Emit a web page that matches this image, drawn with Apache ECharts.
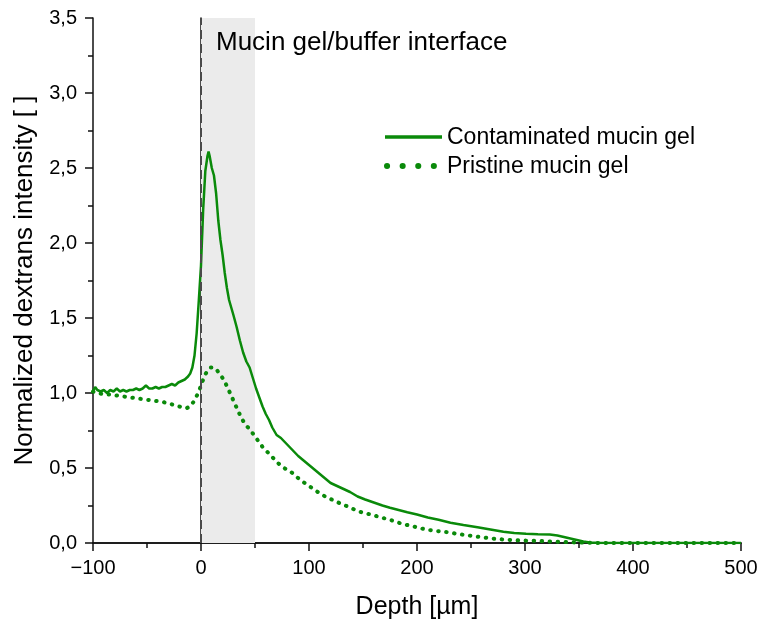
<!DOCTYPE html>
<html><head><meta charset="utf-8">
<script src="https://cdn.jsdelivr.net/npm/echarts@6/dist/echarts.min.js"></script>
<style>html,body{margin:0;padding:0;background:#fff}#c{width:762px;height:628px}</style>
</head><body><div id="c"></div>
<script>
const contaminatedDepth = [-100,-98,-96,-93,-90,-87,-84,-81,-78,-75,-72,-69,-66,-63,-60,-57,-54,-51,-48,-45,-42,-39,-36,-33,-30,-27,-24,-21,-18,-15,-12,-10,-8,-6,-4,-2,0,2,4,6,7,8,10,12,14,16,18,20,22,24,26,28,30,33,36,39,42,45,48,51,54,57,60,63,66,70,74,78,82,86,90,95,100,105,110,115,120,126,132,138,145,152,160,168,175,183,191,200,210,220,231,243,256,268,280,290,301,312,323,330,336,342,348,354,360,370,400,450,500];
const contaminatedValues = [1.01,1.04,1.02,1.01,1.02,1.00,1.02,1.01,1.03,1.01,1.02,1.01,1.02,1.02,1.03,1.02,1.03,1.05,1.03,1.03,1.04,1.03,1.04,1.04,1.05,1.06,1.05,1.07,1.08,1.09,1.11,1.13,1.17,1.25,1.40,1.62,1.85,2.22,2.48,2.58,2.61,2.58,2.50,2.45,2.33,2.15,2.02,1.92,1.80,1.70,1.62,1.57,1.52,1.44,1.35,1.27,1.21,1.17,1.10,1.03,0.97,0.91,0.86,0.82,0.77,0.72,0.70,0.67,0.64,0.61,0.58,0.55,0.52,0.49,0.46,0.43,0.40,0.38,0.36,0.34,0.31,0.29,0.27,0.25,0.235,0.22,0.205,0.19,0.17,0.155,0.135,0.12,0.105,0.09,0.075,0.066,0.061,0.058,0.056,0.05,0.04,0.03,0.02,0.01,0.003,0,0,0,0];
const pristineDepth = [-100,-95,-90,-85,-80,-75,-70,-65,-60,-55,-50,-45,-40,-35,-30,-25,-20,-16,-13,-10,-7,-4,-2,0,3,6,9,12,15,18,21,25,30,35,40,46,52,58,64,70,77,84,92,100,107,115,127,137,146,157,167,177,186,197,208,218,228,238,248,258,269,279,289,300,311,321,331,341,351,362,380,420,460,500];
const pristineValues = [1.01,1.00,0.99,0.99,0.985,0.98,0.975,0.97,0.965,0.96,0.955,0.95,0.945,0.94,0.93,0.92,0.91,0.90,0.90,0.91,0.94,0.98,1.01,1.05,1.11,1.15,1.17,1.17,1.15,1.12,1.09,1.03,0.95,0.87,0.80,0.75,0.69,0.63,0.59,0.54,0.50,0.47,0.42,0.38,0.345,0.31,0.27,0.24,0.21,0.19,0.17,0.15,0.128,0.11,0.09,0.08,0.072,0.06,0.05,0.04,0.03,0.024,0.019,0.016,0.014,0.011,0.008,0.005,0.003,0.001,0,0,0,0];
const seriesNames = ['Contaminated mucin gel','Pristine mucin gel'];
const interfaceRange = [0, 50];
const annotationText = 'Mucin gel/buffer interface';
const xTitle = 'Depth [µm]';
const yTitle = 'Normalized dextrans intensity [ ]';

const green = '#0a8a0a';
const ink = '#000';
const font = '"Liberation Sans", Arial, sans-serif';
const chart = echarts.init(document.getElementById('c'), null, {renderer:'canvas'});
const zip = (a,b)=>a.map((x,i)=>[x,b[i]]);
const tickStyle = {color:'#111', width:1.5};
chart.setOption({
  animation:false,
  textStyle:{fontFamily:font},
  grid:{left:93,right:21,top:18,bottom:85},
  graphic:[
    {type:'text', left:216, top:30, z:100, style:{text:annotationText, fontSize:26, fill:ink, fontFamily:font}},
    {type:'line', z:100, shape:{x1:385,y1:137,x2:442,y2:137}, style:{stroke:green, lineWidth:3.5}},
    {type:'text', z:100, x:447, y:138, style:{text:seriesNames[0], fontSize:23, fill:ink, fontFamily:font, verticalAlign:'middle'}},
    {type:'line', z:100, shape:{x1:387,y1:166,x2:440,y2:166}, style:{stroke:green, lineWidth:6, lineDash:[0.1,15.5], lineCap:'round'}},
    {type:'text', z:100, x:447, y:167, style:{text:seriesNames[1], fontSize:23, fill:ink, fontFamily:font, verticalAlign:'middle'}}
  ],
  xAxis:[{
    type:'value', min:-100, max:500, interval:100,
    name:xTitle, nameLocation:'middle', nameGap:52,
    nameTextStyle:{fontSize:25, color:ink, fontFamily:font},
    axisLine:{onZero:false, lineStyle:tickStyle},
    axisTick:{show:true, inside:false, length:8, lineStyle:tickStyle},
    minorTick:{show:true, splitNumber:2, length:5, lineStyle:tickStyle},
    axisLabel:{fontSize:20, color:ink, margin:15, formatter:v=>String(v).replace('-','\u2212')},
    splitLine:{show:false}
  },{
    type:'value', position:'top', min:-100, max:500,
    axisLine:{show:true, lineStyle:tickStyle},
    axisTick:{show:false}, axisLabel:{show:false}, splitLine:{show:false}
  }],
  yAxis:[{
    type:'value', min:0, max:3.5, interval:0.5,
    name:yTitle, nameLocation:'middle', nameGap:49,
    nameTextStyle:{fontSize:26, color:ink, fontFamily:font},
    axisLine:{onZero:false, lineStyle:tickStyle},
    axisTick:{show:true, inside:false, length:8, lineStyle:tickStyle},
    minorTick:{show:true, splitNumber:2, length:5, lineStyle:tickStyle},
    axisLabel:{fontSize:20, color:ink, margin:16, formatter:v=>v.toFixed(1).replace('.',',')},
    splitLine:{show:false}
  },{
    type:'value', position:'right', min:0, max:3.5,
    axisLine:{show:true, lineStyle:tickStyle},
    axisTick:{show:false}, axisLabel:{show:false}, splitLine:{show:false}
  }],
  series:[{
    name:seriesNames[0], type:'line', showSymbol:false, symbol:'none',
    data:zip(contaminatedDepth, contaminatedValues),
    lineStyle:{color:green, width:2.5}, itemStyle:{color:green},
    z:3,
    markArea:{silent:true, itemStyle:{color:'#ebebeb'}, data:[[{xAxis:interfaceRange[0]},{xAxis:interfaceRange[1]}]]},
    markLine:{silent:true, symbol:'none', label:{show:false},
      lineStyle:{color:'#4a4a4a', type:[9,5], width:2, opacity:1}, data:[{xAxis:0}]}
  },{
    name:seriesNames[1], type:'line', showSymbol:false, symbol:'none',
    data:zip(pristineDepth, pristineValues),
    lineStyle:{color:green, width:4, type:[0.5,7.5], cap:'round'}, itemStyle:{color:green},
    z:3
  }]
});
</script></body></html>
